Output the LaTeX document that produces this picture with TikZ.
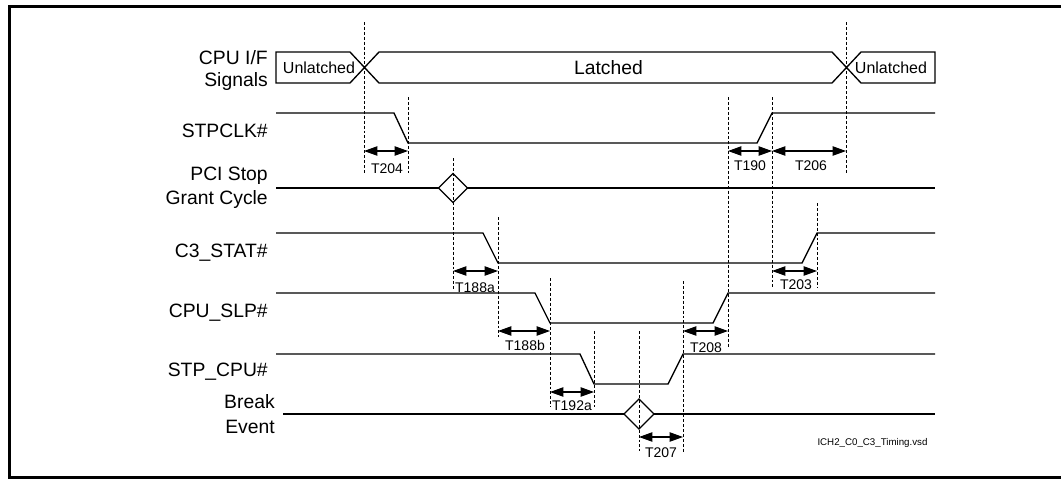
\documentclass[tikz,border=0pt]{standalone}
\usepackage{fontspec}
\setmainfont{Liberation Sans}
\usetikzlibrary{arrows.meta}

\tikzset{
  sig/.style={line width=1pt},
  guide/.style={line width=0.7pt, dash pattern=on 2.2pt off 1.5pt},
  tarrow/.style={line width=0.8pt, {Triangle[length=10pt,width=7pt]}-{Triangle[length=10pt,width=7pt]}},
  tlabel/.style={font=\fontsize{10.5}{12}\selectfont, anchor=base, inner sep=0pt},
  siglabel/.style={font=\fontsize{14.5}{17}\selectfont, anchor=base east, inner sep=0pt},
}

\begin{document}
\begin{tikzpicture}[x=0.75pt, y=-0.75pt]
  \useasboundingbox (0,0) rectangle (1061,479);

  % Frame
  \draw[line width=1.9pt] (1061,6.5) -- (9.5,6.5) -- (9.5,477.5) -- (1061,477.5);

  % Signal names
  \node[siglabel] (cpuif)   at (268,64)  {CPU I/F};
  \node[siglabel] (cpuif2)  at (268,86)  {Signals};
  \node[siglabel] (stpclk)  at (268,137) {STPCLK\#};
  \node[siglabel] (pci)     at (268,180) {PCI Stop};
  \node[siglabel] (pci2)    at (268,204) {Grant Cycle};
  \node[siglabel] (c3stat)  at (268,257) {C3\_STAT\#};
  \node[siglabel] (cpuslp)  at (268,317) {CPU\_SLP\#};
  \node[siglabel] (stpcpu)  at (268,376) {STP\_CPU\#};
  \node[siglabel] (brk)     at (275,408) {Break};
  \node[siglabel] (brk2)    at (275,433) {Event};

  % CPU I/F bus
  \draw[sig] (276,52) -- (350,52) -- (379,83) -- (832,83) -- (861,52) -- (935,52)
    -- (935,83) -- (861,83) -- (832,52) -- (379,52) -- (350,83) -- (276,83) -- cycle;
  \node[font=\fontsize{12}{14}\selectfont, anchor=base, inner sep=0pt] (unl1) at (319,73) {Unlatched};
  \node[font=\fontsize{14.5}{17}\selectfont, anchor=base, inner sep=0pt] (lat) at (608.5,74) {Latched};
  \node[font=\fontsize{12}{14}\selectfont, anchor=base, inner sep=0pt] (unl2) at (891,73) {Unlatched};

  % STPCLK#
  \draw[sig] (276,113) -- (394,113) -- (408,143) -- (757,143) -- (772,113) -- (935,113);

  % PCI Stop Grant Cycle
  \draw[sig] (276,188) -- (935,188);
  \draw[sig, fill=white] (438.5,188) -- (453,173.5) -- (467.5,188) -- (453,202.5) -- cycle;

  % C3_STAT#
  \draw[sig] (276,233) -- (483,233) -- (498,263) -- (802,263) -- (817,233) -- (935,233);

  % CPU_SLP#
  \draw[sig] (276,293) -- (535,293) -- (550,323) -- (713,323) -- (728,293) -- (935,293);

  % STP_CPU#
  \draw[sig] (276,354) -- (580,354) -- (594,384) -- (668,384) -- (683,354) -- (935,354);

  % Break Event
  \draw[sig] (283,414) -- (935,414);
  \draw[sig, fill=white] (624,414) -- (639,399) -- (654,414) -- (639,429) -- cycle;

  % Reference lines
  \draw[guide] (364,22) -- (364,173);
  \draw[guide] (846,22) -- (846,173);
  \draw[guide] (408,97) -- (408,173);
  \draw[guide] (728,97) -- (728,347);
  \draw[guide] (772,97) -- (772,287);
  \draw[guide] (453,158) -- (453,290);
  \draw[guide] (498,217) -- (498,337);
  \draw[guide] (817,203) -- (817,287);
  \draw[guide] (550,278) -- (550,407);
  \draw[guide] (683,281) -- (683,453);
  \draw[guide] (594,331) -- (594,407);
  \draw[guide] (639,331) -- (639,451);

  % Timing parameters
  \draw[tarrow] (364,151) -- (408,151);
  \node[tlabel] (t204) at (387,173) {T204};
  \draw[tarrow] (728,151) -- (772,151);
  \node[tlabel] (t190) at (750,170) {T190};
  \draw[tarrow] (772,151) -- (846,151);
  \node[tlabel] (t206) at (811,170) {T206};
  \draw[tarrow] (453,271) -- (498,271);
  \node[tlabel] (t188a) at (475,292) {T188a};
  \draw[tarrow] (772,271) -- (817,271);
  \node[tlabel] (t203) at (796,289) {T203};
  \draw[tarrow] (498,331) -- (550,331);
  \node[tlabel] (t188b) at (525,350) {T188b};
  \draw[tarrow] (683,331) -- (728,331);
  \node[tlabel] (t208) at (706,352) {T208};
  \draw[tarrow] (550,392) -- (594,392);
  \node[tlabel] (t192a) at (572,410) {T192a};
  \draw[tarrow] (639,437) -- (683,437);
  \node[tlabel] (t207) at (661,457) {T207};

  % File name
  \node[font=\fontsize{7.3}{9}\selectfont, anchor=base, inner sep=0pt] (fname) at (872.5,445) {ICH2\_C0\_C3\_Timing.vsd};
\end{tikzpicture}
\end{document}
